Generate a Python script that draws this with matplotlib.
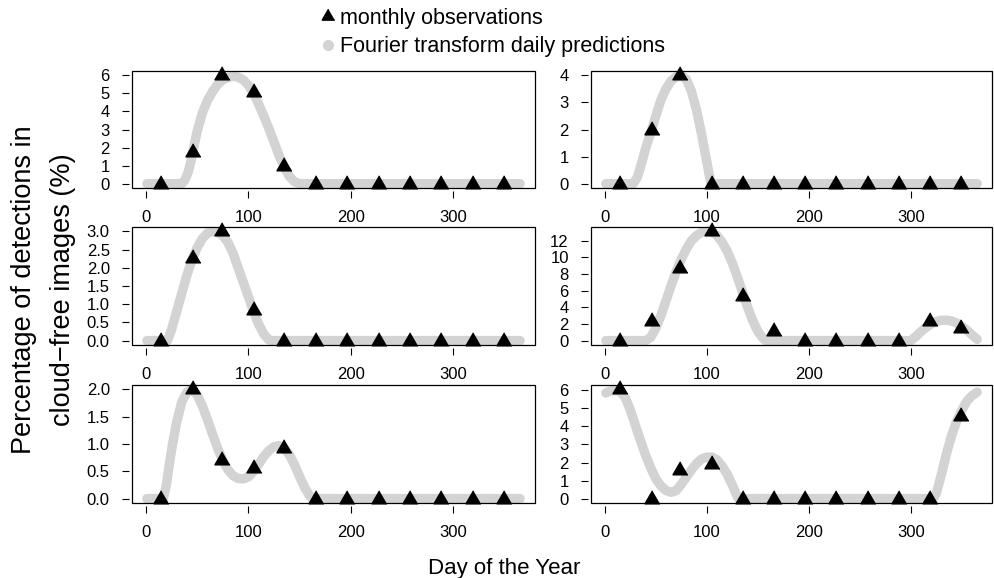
import matplotlib
matplotlib.use("Agg")
import matplotlib.pyplot as plt
from matplotlib.patches import Rectangle
from matplotlib.lines import Line2D
from matplotlib.ticker import MultipleLocator, FormatStrFormatter

plt.rcParams['font.family'] = ['Liberation Sans', 'DejaVu Sans']

# ---------------- data ----------------
obs_days = [15, 46, 74, 105, 135, 166, 196, 227, 258, 288, 319, 349]

obs1 = [0, 1.75, 6.0, 5.05, 1.0, 0, 0, 0, 0, 0, 0, 0]
obs2 = [0, 2.0, 4.0, 0, 0, 0, 0, 0, 0, 0, 0, 0]
obs3 = [0, 2.27, 3.0, 0.85, 0, 0, 0, 0, 0, 0, 0, 0]
obs4 = [0, 2.35, 8.7, 13.1, 5.3, 1.15, 0, 0, 0, 0, 2.35, 1.5]
obs5 = [0, 2.0, 0.71, 0.56, 0.92, 0, 0, 0, 0, 0, 0, 0]
obs6 = [6.05, 0, 1.58, 1.91, 0, 0, 0, 0, 0, 0, 0, 4.6]

pred1_days = [1, 35, 38, 41, 44, 47, 50, 55, 60, 65, 70, 75, 80, 85, 90, 95, 100, 105,
              110, 115, 120, 125, 130, 135, 140, 145, 150, 365]
pred1_vals = [0, 0, 0.2, 0.6, 1.25, 2.1, 2.9, 3.9, 4.6, 5.1, 5.5, 5.75, 5.88, 5.95, 5.9,
              5.75, 5.45, 5.0, 4.4, 3.75, 3.05, 2.3, 1.55, 0.9, 0.4, 0.1, 0, 0]

pred2_days = [1, 28, 32, 36, 40, 46, 50, 55, 60, 65, 70, 75, 80, 85, 90, 95, 100, 104, 365]
pred2_vals = [0, 0, 0.25, 0.75, 1.3, 2.0, 2.5, 3.1, 3.5, 3.8, 3.95, 4.0, 3.85, 3.4, 2.7,
              1.8, 0.8, 0, 0]

pred3_days = [1, 21, 25, 30, 35, 40, 45, 50, 55, 60, 65, 70, 75, 80, 85, 90, 95, 100, 105,
              110, 115, 120, 122, 365]
pred3_vals = [0, 0, 0.3, 0.8, 1.3, 1.8, 2.22, 2.55, 2.8, 2.95, 3.0, 2.98, 2.88, 2.7, 2.4,
              2.0, 1.6, 1.2, 0.8, 0.45, 0.18, 0.02, 0, 0]

pred4_days = [1, 40, 45, 50, 55, 60, 65, 70, 75, 80, 85, 90, 95, 100, 105, 110, 115, 120,
              125, 130, 135, 140, 145, 150, 155, 158, 300, 305, 310, 315, 320, 325, 330,
              335, 340, 345, 350, 355, 360, 365]
pred4_vals = [0, 0, 0.4, 1.5, 3.0, 4.8, 6.6, 8.3, 9.8, 11.0, 12.0, 12.6, 13.0, 13.1, 13.0,
              12.6, 11.8, 10.7, 9.3, 7.6, 5.8, 4.0, 2.4, 1.1, 0.3, 0, 0, 0.5, 1.1, 1.6,
              2.0, 2.3, 2.45, 2.45, 2.35, 2.1, 1.7, 1.25, 0.7, 0.15]

pred5_days = [1, 17, 20, 23, 26, 30, 35, 40, 45, 50, 55, 60, 65, 70, 75, 80, 85, 90, 95,
              100, 105, 110, 115, 120, 125, 130, 135, 140, 145, 150, 155, 160, 163, 365]
pred5_vals = [0, 0, 0.25, 0.65, 1.0, 1.4, 1.77, 1.95, 2.0, 1.9, 1.7, 1.45, 1.18, 0.92, 0.7,
              0.53, 0.42, 0.37, 0.36, 0.4, 0.5, 0.63, 0.77, 0.88, 0.95, 0.97, 0.92, 0.8,
              0.62, 0.4, 0.2, 0.04, 0, 0]

pred6_days = [1, 5, 10, 15, 20, 25, 30, 35, 40, 45, 50, 55, 60, 65, 70, 75, 80, 85, 90, 95,
              100, 105, 110, 115, 120, 125, 130, 131, 322, 325, 330, 335, 340, 345, 350,
              355, 360, 365]
pred6_vals = [5.85, 5.95, 6.0, 5.95, 5.6, 4.9, 4.05, 3.2, 2.4, 1.7, 1.1, 0.7, 0.45, 0.35,
              0.45, 0.8, 1.2, 1.6, 1.95, 2.2, 2.3, 2.3, 2.15, 1.8, 1.35, 0.75, 0.1, 0, 0,
              0.3, 1.35, 2.5, 3.5, 4.3, 4.9, 5.4, 5.7, 5.9]

x_ticks = [0, 100, 200, 300]
y_steps = [1, 1, 0.5, 2, 0.5, 1]
y_formats = ['%d', '%d', '%.1f', '%d', '%.1f', '%d']

legend_labels = ['monthly observations', 'Fourier transform daily predictions']
x_label = 'Day of the Year'
y_label_lines = ['Percentage of detections in', 'cloud\u2212free images (%)']

# ---------------- layout ----------------
W, H = 994, 578
fig = plt.figure(figsize=(W / 100, H / 100), dpi=100)

col_x = [132, 591]
col_w = [403, 401]
row_top = [71, 227, 385]
row_h = [117, 118, 118]

GRAY = '#D3D3D3'
tri = [(0, 1), (-0.866, -0.5), (0.866, -0.5)]

obs_all = [obs1, obs2, obs3, obs4, obs5, obs6]
pd_all = [pred1_days, pred2_days, pred3_days, pred4_days, pred5_days, pred6_days]
pv_all = [pred1_vals, pred2_vals, pred3_vals, pred4_vals, pred5_vals, pred6_vals]

for i in range(6):
    r, c = divmod(i, 2)
    left = col_x[c] / W
    bottom = 1 - (row_top[r] + row_h[r]) / H
    ax = fig.add_axes([left, bottom, col_w[c] / W, row_h[r] / H])
    ax.plot(pd_all[i], pv_all[i], color=GRAY, lw=6.8, solid_capstyle='round',
            solid_joinstyle='round', zorder=2, clip_on=False)
    ax.plot(obs_days, obs_all[i], linestyle='none', marker=tri, markersize=12.5,
            color='black', zorder=3, clip_on=False)
    dmax = max(max(pv_all[i]), max(obs_all[i]))
    ax.set_xlim(1 - 0.04 * 364, 365 + 0.04 * 364)
    ax.set_ylim(-0.04 * dmax, 1.04 * dmax)
    ax.set_xticks(x_ticks)
    ax.yaxis.set_major_locator(MultipleLocator(y_steps[i]))
    ax.yaxis.set_major_formatter(FormatStrFormatter(y_formats[i]))
    for s in ['top', 'right']:
        ax.spines[s].set_visible(False)
    for s in ['left', 'bottom']:
        ax.spines[s].set_position(('outward', 2))
        ax.spines[s].set_color('none')
    ax.add_patch(Rectangle((0, 0), 1, 1, transform=ax.transAxes, fill=False,
                           lw=0.9, ec='black', clip_on=False, zorder=5))
    ax.tick_params(axis='both', direction='out', length=5, width=0.8,
                   labelsize=12, color='black')
    ax.tick_params(axis='x', pad=9)
    ax.tick_params(axis='y', pad=9)

# legend
handles = [Line2D([], [], linestyle='none', marker=tri, markersize=10.5, color='black'),
           Line2D([], [], linestyle='none', marker='o', markersize=7, color=GRAY)]
fig.legend(handles, legend_labels, loc='upper left', bbox_to_anchor=(320 / W, 1 - 8 / H),
           frameon=False, fontsize=15.5, handlelength=0.72, handletextpad=0.2,
           borderpad=0, borderaxespad=0, labelspacing=0.33)

fig.text(504 / W, 1 - 574 / H, x_label, ha='center', va='baseline', fontsize=16)
fig.text(24 / W, 1 - 290 / H, y_label_lines[0], rotation=90, ha='center', va='center',
         fontsize=19.5)
fig.text(63 / W, 1 - 290 / H, y_label_lines[1], rotation=90, ha='center', va='center',
         fontsize=19.5)

fig.savefig('out.png', dpi=100)
